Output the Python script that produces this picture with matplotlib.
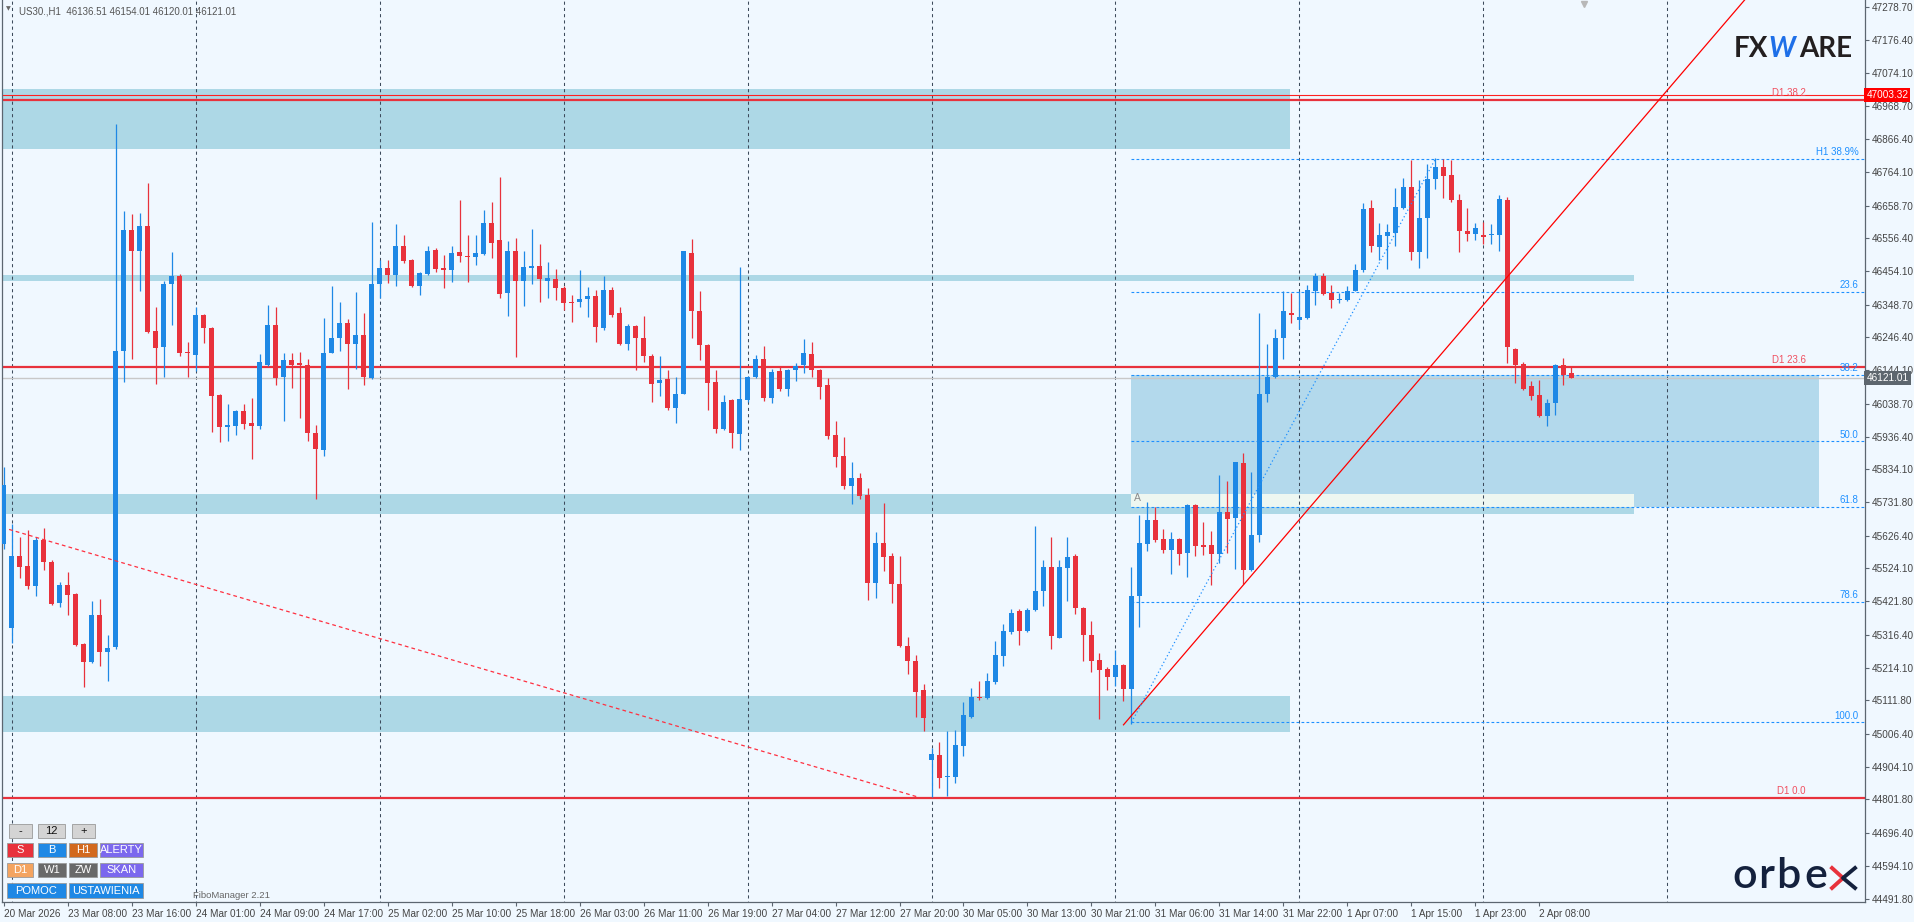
import matplotlib
matplotlib.use("Agg")
import matplotlib.pyplot as plt
import matplotlib.transforms as mtransforms
from matplotlib.patches import Rectangle, FancyBboxPatch
from matplotlib.lines import Line2D

plt.rcParams['font.family'] = ['Liberation Sans', 'DejaVu Sans']

W, H = 1915, 922

# ---- data (US30 H1, 20 Mar 23:00 -> 2 Apr 10:00) ----
opens = [45601, 45337, 45564, 45531, 45468, 45613, 45545, 45417, 45471, 45445,
         45287, 45231, 45379, 45263, 45278, 46203, 46581, 46517, 46594, 46267,
         46216, 46412, 46440, 46200, 46191, 46316, 46276, 46067, 45965, 45968,
         46015, 45980, 45968, 46160, 46286, 46122, 46177, 46165, 46159, 45947,
         45894, 46199, 46245, 46290, 46227, 46255, 46120, 46415, 46462, 46441,
         46533, 46487, 46406, 46444, 46521, 46462, 46456, 46515, 46502, 46498,
         46508, 46604, 46550, 46384, 46518, 46422, 46465, 46471, 46422, 46430,
         46400, 46356, 46356, 46366, 46375, 46277, 46396, 46322, 46227, 46282,
         46245, 46188, 46103, 46116, 46027, 46071, 46510, 46330, 46224, 46106,
         45959, 46051, 45943, 46052, 46122, 46180, 46058, 46140, 46085, 46143,
         46159, 46196, 46145, 46097, 45941, 45876, 45781, 45808, 45753, 45479,
         45605, 45564, 45474, 45283, 45235, 45145, 44924, 44942, 44873, 44873,
         44970, 45061, 45121, 45118, 45169, 45250, 45324, 45391, 45327, 45394,
         45453, 45527, 45308, 45524, 45564, 45401, 45315, 45238, 45209, 45186,
         45223, 45146, 45438, 45601, 45675, 45616, 45582, 45616, 45571, 45722,
         45596, 45596, 45568, 45701, 45682, 45855, 45519, 45630, 46071, 46123,
         46246, 46323, 46301, 46308, 46390, 46440, 46385, 46363, 46363, 46393,
         46456, 46650, 46529, 46563, 46573, 46652, 46718, 46514, 46621, 46743,
         46780, 46754, 46675, 46578, 46569, 46567, 46566, 46566, 46677, 46211,
         46163, 46094, 46066, 46000, 46040, 46159, 46136.51]
highs = [45841, 45663, 45623, 45645, 45623, 45650, 45549, 45482, 45512, 45448,
         45290, 45423, 45428, 45317, 46915, 46641, 46632, 46637, 46730, 46341,
         46422, 46515, 46444, 46233, 46341, 46319, 46279, 46071, 46037, 46020,
         46037, 46057, 46193, 46347, 46341, 46197, 46197, 46202, 46180, 45974,
         46308, 46406, 46356, 46305, 46388, 46323, 46607, 46489, 46489, 46600,
         46566, 46492, 46452, 46533, 46526, 46504, 46533, 46677, 46567, 46566,
         46644, 46669, 46748, 46548, 46558, 46518, 46585, 46538, 46481, 46459,
         46407, 46378, 46456, 46404, 46396, 46437, 46403, 46341, 46289, 46285,
         46314, 46193, 46188, 46144, 46122, 46518, 46555, 46390, 46227, 46144,
         46067, 46054, 46467, 46126, 46191, 46221, 46148, 46154, 46148, 46166,
         46242, 46233, 46148, 46119, 45986, 45935, 45857, 45823, 45774, 45638,
         45730, 45571, 45564, 45311, 45253, 45164, 44964, 44982, 45016, 45019,
         45105, 45149, 45172, 45197, 45297, 45349, 45397, 45397, 45401, 45657,
         45549, 45622, 45549, 45622, 45568, 45405, 45360, 45260, 45216, 45268,
         45225, 45527, 45690, 45731, 45716, 45648, 45638, 45619, 45727, 45727,
         45670, 45642, 45815, 45796, 45858, 45885, 45826, 46322, 46225, 46274,
         46393, 46385, 46393, 46410, 46447, 46447, 46409, 46385, 46407, 46477,
         46666, 46677, 46604, 46600, 46714, 46745, 46800, 46740, 46788, 46807,
         46803, 46800, 46696, 46652, 46604, 46607, 46600, 46692, 46686, 46212,
         46168, 46111, 46114, 46055, 46163, 46181, 46154.01]
lows = [45586, 45290, 45494, 45460, 45438, 45519, 45411, 45405, 45379, 45283,
        45152, 45228, 45219, 45172, 45272, 46107, 46178, 46393, 46259, 46100,
        46123, 46285, 46187, 46122, 46141, 46230, 45952, 45918, 45923, 45941,
        45959, 45867, 45960, 46156, 46097, 45986, 46089, 45996, 45921, 45741,
        45875, 46197, 46205, 46086, 46148, 46098, 46116, 46370, 46418, 46406,
        46478, 46403, 46378, 46441, 46452, 46400, 46421, 46481, 46421, 46474,
        46504, 46496, 46370, 46314, 46185, 46344, 46415, 46356, 46370, 46363,
        46332, 46296, 46341, 46311, 46233, 46270, 46311, 46222, 46208, 46145,
        46171, 46043, 46063, 46021, 45980, 46069, 46245, 46175, 46020, 45947,
        45956, 45901, 45895, 46045, 46119, 46048, 46040, 46080, 46064, 46111,
        46134, 46123, 46054, 45929, 45842, 45771, 45727, 45741, 45426, 45431,
        45515, 45416, 45278, 45194, 45058, 45016, 44808, 44836, 44812, 44853,
        44938, 45056, 45112, 45115, 45164, 45220, 45320, 45286, 45324, 45391,
        45408, 45272, 45305, 45423, 45382, 45234, 45201, 45053, 45145, 45157,
        45109, 45038, 45342, 45579, 45608, 45571, 45508, 45534, 45497, 45564,
        45567, 45472, 45542, 45571, 45521, 45475, 45516, 45608, 46045, 46119,
        46178, 46293, 46274, 46304, 46348, 46378, 46338, 46353, 46359, 46390,
        46452, 46515, 46489, 46459, 46533, 46647, 46489, 46464, 46496, 46711,
        46681, 46671, 46515, 46548, 46551, 46538, 46538, 46518, 46166, 46104,
        46082, 46052, 45997, 45968, 46005, 46097, 46120.01]
closes = [45786, 45562, 45527, 45468, 45613, 45545, 45414, 45471, 45441, 45286,
          45231, 45379, 45263, 45275, 46203, 46581, 46517, 46594, 46264, 46212,
          46415, 46440, 46199, 46197, 46316, 46276, 46063, 45965, 45972, 46015,
          45977, 45969, 46168, 46286, 46119, 46177, 46160, 46159, 45946, 45897,
          46197, 46245, 46290, 46225, 46255, 46123, 46415, 46462, 46443, 46533,
          46484, 46406, 46449, 46518, 46459, 46456, 46510, 46501, 46498, 46510,
          46604, 46541, 46381, 46518, 46422, 46468, 46471, 46428, 46431, 46400,
          46353, 46353, 46367, 46375, 46280, 46396, 46316, 46227, 46282, 46245,
          46187, 46101, 46113, 46026, 46071, 46516, 46328, 46222, 46103, 45959,
          46045, 45946, 46054, 46123, 46180, 46058, 46137, 46086, 46144, 46157,
          46197, 46144, 46091, 45938, 45873, 45781, 45808, 45752, 45479, 45605,
          45559, 45475, 45283, 45234, 45139, 45056, 44944, 44868, 44876, 44973,
          45067, 45123, 45118, 45172, 45253, 45327, 45386, 45327, 45394, 45453,
          45527, 45312, 45527, 45559, 45401, 45315, 45235, 45206, 45183, 45223,
          45146, 45438, 45604, 45675, 45613, 45582, 45616, 45568, 45722, 45593,
          45592, 45568, 45701, 45678, 45858, 45519, 45630, 46071, 46123, 46246,
          46330, 46316, 46311, 46396, 46438, 46381, 46363, 46367, 46393, 46456,
          46647, 46533, 46566, 46575, 46653, 46718, 46514, 46619, 46743, 46780,
          46752, 46675, 46578, 46570, 46589, 46560, 46569, 46678, 46215, 46160,
          46086, 46063, 46000, 46042, 46159, 46129, 46121.01]

time_ticks = list(range(0, 193, 8))
time_labels = ["20 Mar 2026", "23 Mar 08:00", "23 Mar 16:00", "24 Mar 01:00", "24 Mar 09:00",
               "24 Mar 17:00", "25 Mar 02:00", "25 Mar 10:00", "25 Mar 18:00", "26 Mar 03:00",
               "26 Mar 11:00", "26 Mar 19:00", "27 Mar 04:00", "27 Mar 12:00", "27 Mar 20:00",
               "30 Mar 05:00", "30 Mar 13:00", "30 Mar 21:00", "31 Mar 06:00", "31 Mar 14:00",
               "31 Mar 22:00", "1 Apr 07:00", "1 Apr 15:00", "1 Apr 23:00", "2 Apr 08:00"]
price_ticks = [47278.70, 47176.40, 47074.10, 46968.70, 46866.40, 46764.10, 46658.70,
               46556.40, 46454.10, 46348.70, 46246.40, 46144.10, 46038.70, 45936.40,
               45834.10, 45731.80, 45626.40, 45524.10, 45421.80, 45316.40, 45214.10,
               45111.80, 45006.40, 44904.10, 44801.80, 44696.40, 44594.10, 44491.80]
day_separators = [1, 24, 47, 70, 93, 116, 139, 162, 185, 208]

# support / resistance zones: top, bottom, right end (bar)
zone_top = [47023, 46443, 45756, 45124]
zone_bottom = [46837, 46424, 45694, 45013]
zone_end = [160.8, 203.8, 203.8, 160.8]

fib_levels = [46805, 46389, 46130, 45922, 45716, 45420, 45043]
fib_names = ['H1 38.9%', '23.6', '38.2', '50.0', '61.8', '78.6', '100.0']
fib_start, fib_box_end = 141, 226.9

d1_levels = [46990, 46155, 44805]
d1_names = ['D1 38.2', 'D1 23.6', 'D1 0.0']
alert_price = 47003.32

trend_x, trend_y = [140, 218], [45035, 47312]
dash_x, dash_y = [0.7, 114.2], [45646, 44810]
swing_x, swing_y = [141, 179], [45043, 46805]

BULL, BEAR = '#1e88e5', '#e8323c'
BG = '#f0f8ff'
AXC = '#5c6670'

fig = plt.figure(figsize=(W / 100, H / 100), dpi=100, facecolor=BG)
ax = fig.add_axes([2 / W, 20 / H, 1863 / W, 902 / H], facecolor=BG)
ax.set_xlim(-0.19, 232.69)
ax.set_ylim(44481.0, 47301.5)

# zones
for top, bot, end in zip(zone_top, zone_bottom, zone_end):
    ax.add_patch(Rectangle((-1, bot), end + 1, top - bot, fc='#add8e6', ec='none', zorder=0.5))
# fibo box (38.2 -> 61.8)
ax.add_patch(Rectangle((fib_start, fib_levels[4]), fib_box_end - fib_start,
                       fib_levels[2] - fib_levels[4], fc='#b3d9ec', ec='none', zorder=0.6))
ax.add_patch(Rectangle((fib_start, fib_levels[4]), zone_end[2] - fib_start,
                       zone_top[2] - fib_levels[4], fc='#eef7f1', ec='none', zorder=0.7))

# day separators
ax.vlines(day_separators, 44000, 48000, colors='#3d4b5c', linestyles=(0, (3, 3)), lw=0.75, zorder=1)

# horizontal lines
ax.axhline(closes[-1], color='#c8c8c8', lw=1, zorder=1.5)
ax.axhline(alert_price, color='#ff2020', lw=0.8, zorder=2)
for lvl, name in zip(d1_levels, d1_names):
    ax.axhline(lvl, color=BEAR, lw=1.6, zorder=2)
    ax.text(225.3, lvl + 6, name, color='#f05060', fontsize=7, ha='right', va='bottom', zorder=6)

for lvl, name in zip(fib_levels, fib_names):
    ax.hlines(lvl, fib_start, 240, colors='#1e90ff', linestyles=(0, (2.5, 2)), lw=0.8, zorder=2)
    ax.text(231.9, lvl + 5, name, color='#1e90ff', fontsize=7, ha='right', va='bottom', zorder=6)

ax.text(141.3, 45744, 'A', color='#8c8c8c', fontsize=7.5, ha='left', va='center', zorder=6)

# candles
xs = list(range(len(opens)))
cols = [BULL if c > o else BEAR for o, c in zip(opens, closes)]
bottoms = [min(o, c) for o, c in zip(opens, closes)]
heights = [max(abs(c - o), 3.5) for o, c in zip(opens, closes)]
ax.vlines(xs, lows, highs, colors=cols, lw=0.9, zorder=3)
ax.bar(xs, heights, bottom=bottoms, width=0.625, color=cols, edgecolor='none', zorder=4)

# drawn lines
ax.plot(trend_x, trend_y, color='#ff0000', lw=0.9, zorder=5)
ax.plot(dash_x, dash_y, color='#ff3040', lw=0.9, ls=(0, (3, 2.5)), zorder=5)
ax.plot(swing_x, swing_y, color='#1e90ff', lw=0.9, ls=(0, (1, 2)), zorder=5)
ax.plot([197.6], [47290], marker='v', ms=5, color='#b8b8b8', clip_on=False, zorder=6)

# axes styling
ax.spines['top'].set_visible(False)
for side in ['left', 'right', 'bottom']:
    ax.spines[side].set_color(AXC)
    ax.spines[side].set_linewidth(0.9)
ax.yaxis.tick_right()
ax.set_yticks(price_ticks)
ax.set_yticklabels(['%.2f' % v for v in price_ticks])
ax.set_xticks(time_ticks)
ax.set_xticklabels(time_labels)
for lab in ax.get_xticklabels():
    lab.set_ha('left')
ax.tick_params(axis='both', direction='out', length=3, width=0.8, color=AXC,
               labelsize=7.2, labelcolor='#444444', pad=2)

# price boxes on the axis
trans = mtransforms.blended_transform_factory(ax.transAxes, ax.transData)
ax.text(1.0008, alert_price, '%.2f' % alert_price, transform=trans, ha='left', va='center',
        fontsize=7.2, color='white', zorder=10, clip_on=False,
        bbox=dict(boxstyle='square,pad=0.2', fc='#ff0000', ec='none'))
ax.text(1.0008, closes[-1], '%.2f' % closes[-1], transform=trans, ha='left', va='center',
        fontsize=7.2, color='white', zorder=10, clip_on=False,
        bbox=dict(boxstyle='square,pad=0.2', fc='#5d666e', ec='none'))

# header
fig.text(8 / W, 1 - 9 / H, '\u25BC', fontsize=4.5, color='#666666', family='DejaVu Sans',
         ha='center', va='center')
fig.text(19 / W, 1 - 11 / H, 'US30.,H1  %.2f %.2f %.2f %.2f' % (opens[-1], highs[-1], lows[-1], closes[-1]),
         fontsize=7, color='#555555', va='center')
fig.text(193 / W, 1 - 895 / H, 'FiboManager 2.21', fontsize=6.8, color='#666666', va='center')

# panel buttons (pixel boxes)
buttons = [
    ('-', 9, 32, 824, 838, '#d4d4d4', '#111111'),
    ('12', 38, 65, 824, 838, '#d4d4d4', '#111111'),
    ('+', 72, 95, 824, 838, '#d4d4d4', '#111111'),
    ('S', 7, 33, 843, 857, '#e8323c', 'white'),
    ('B', 38, 66, 843, 857, '#1e88e5', 'white'),
    ('H1', 69, 97, 843, 857, '#d2691e', 'white'),
    ('ALERTY', 100, 143, 843, 857, '#7b68ee', 'white'),
    ('D1', 7, 33, 863, 877, '#f4a460', 'white'),
    ('W1', 38, 66, 863, 877, '#696969', 'white'),
    ('ZW', 69, 97, 863, 877, '#696969', 'white'),
    ('SKAN', 100, 143, 863, 877, '#7b68ee', 'white'),
    ('POMOC', 7, 66, 883, 898, '#1e88e5', 'white'),
    ('USTAWIENIA', 69, 143, 883, 898, '#1e88e5', 'white'),
]
for label, x0, x1, y0, y1, fc, tc in buttons:
    fig.add_artist(FancyBboxPatch((x0 / W, 1 - y1 / H), (x1 - x0) / W, (y1 - y0) / H,
                                  boxstyle='square,pad=0', fc=fc, ec='#9a9a9a', lw=0.6,
                                  transform=fig.transFigure, zorder=20))
    fig.text((x0 + x1) / 2 / W, 1 - (y0 + y1) / 2 / H, label, color=tc, fontsize=8,
             ha='center', va='center', zorder=21)

# logos
fig.text(1734 / W, 1 - 49 / H, 'FX', fontsize=20, fontweight='bold', family='Lato',
         color='#231f20', va='center', ha='left')
fig.text(1782 / W, 1 - 49 / H, 'W', fontsize=20, fontweight='bold', family='Lato',
         color='#1e6fe8', va='center', ha='center', style='italic')
fig.text(1799 / W, 1 - 49 / H, 'ARE', fontsize=20, fontweight='bold', family='Lato',
         color='#231f20', va='center', ha='left')

for ch, cx in zip('orbe', [1745, 1766, 1788, 1816]):
    fig.text(cx / W, 1 - 888 / H, ch, fontsize=31, family='Lato', fontweight='semibold',
             color='#14213d', ha='center', va='baseline')
fig.add_artist(Line2D([1832 / W, 1843 / W, 1832 / W], [1 - 868 / H, 1 - 878 / H, 1 - 888 / H],
                      color='#e8323c', lw=2.8, transform=fig.transFigure))
fig.add_artist(Line2D([1855 / W, 1843 / W, 1855 / W], [1 - 868 / H, 1 - 878 / H, 1 - 888 / H],
                      color='#14213d', lw=2.8, transform=fig.transFigure))

fig.savefig('out.png', dpi=100, facecolor=BG)
